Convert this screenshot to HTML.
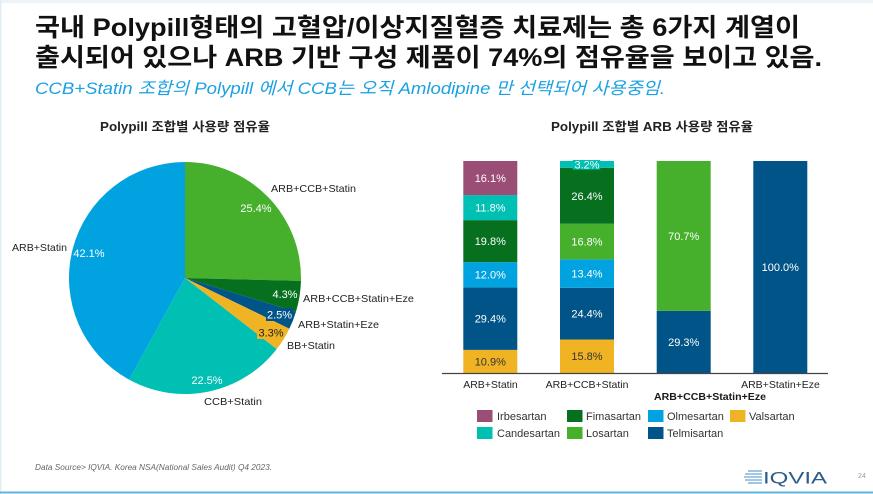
<!DOCTYPE html>
<html><head><meta charset="utf-8"><style>
html,body{margin:0;padding:0;background:#fff;}
svg{display:block;}
text{font-family:"Liberation Sans","Noto Sans CJK KR",sans-serif;}
</style></head><body>
<svg width="873" height="494" viewBox="0 0 873 494" xmlns="http://www.w3.org/2000/svg">
<rect x="0" y="0" width="873" height="494" fill="#fff"/>
<rect x="0" y="0" width="873" height="3" fill="#eef3f7"/>
<rect x="0" y="0" width="1.5" height="494" fill="#e3edf4"/>
<rect x="0" y="491.5" width="873" height="2" fill="#5ab6df"/>

<!-- Title -->
<text x="35" y="36" font-size="25" font-weight="bold" fill="#111" textLength="765" lengthAdjust="spacingAndGlyphs">국내 Polypill형태의 고혈압/이상지질혈증 치료제는 총 6가지 계열이</text>
<text x="35" y="66" font-size="25" font-weight="bold" fill="#111" textLength="787" lengthAdjust="spacingAndGlyphs">출시되어 있으나 ARB 기반 구성 제품이 74%의 점유율을 보이고 있음.</text>
<text x="35" y="94" font-size="17" font-style="italic" fill="#1ba1e2" textLength="630" lengthAdjust="spacingAndGlyphs">CCB+Statin 조합의 Polypill 에서 CCB는 오직 Amlodipine 만 선택되어 사용중임.</text>

<!-- Chart titles -->
<text x="100" y="131" font-size="12.5" font-weight="bold" fill="#222" textLength="170" lengthAdjust="spacingAndGlyphs">Polypill 조합별 사용량 점유율</text>
<text x="551" y="131" font-size="12.5" font-weight="bold" fill="#222" textLength="202" lengthAdjust="spacingAndGlyphs">Polypill 조합별 ARB 사용량 점유율</text>

<!-- Pie -->
<g stroke="none">
<path d="M185,278 L185,162 A116,116 0 0 1 300.96,280.92 Z" fill="#46af2c"/>
<path d="M185,278 L300.96,280.92 A116,116 0 0 1 295.98,311.76 Z" fill="#06701f"/>
<path d="M185,278 L295.98,311.76 A116,116 0 0 1 289.33,328.71 Z" fill="#005487"/>
<path d="M185,278 L289.33,328.71 A116,116 0 0 1 276.66,349.10 Z" fill="#f0b323"/>
<path d="M185,278 L276.66,349.10 A116,116 0 0 1 129.12,379.65 Z" fill="#00bfb3"/>
<path d="M185,278 L129.12,379.65 A116,116 0 0 1 185,162 Z" fill="#00a3df"/>
</g>
<g font-size="11" fill="#fff" text-anchor="middle">
<text x="256" y="212">25.4%</text>
<text x="89" y="257">42.1%</text>
<text x="285" y="298">4.3%</text>
<rect x="266" y="308" width="27" height="13" fill="#005487"/>
<text x="279.5" y="318.5">2.5%</text>
<rect x="257" y="326" width="27" height="13" fill="#f0b323"/>
<text x="271" y="336.5" fill="#222">3.3%</text>
<text x="207" y="384">22.5%</text>
</g>
<g font-size="10.5" fill="#222">
<text x="271" y="192" textLength="85" lengthAdjust="spacingAndGlyphs">ARB+CCB+Statin</text>
<text x="12" y="251" textLength="55" lengthAdjust="spacingAndGlyphs">ARB+Statin</text>
<text x="303" y="302" textLength="111" lengthAdjust="spacingAndGlyphs">ARB+CCB+Statin+Eze</text>
<text x="298" y="328" textLength="81" lengthAdjust="spacingAndGlyphs">ARB+Statin+Eze</text>
<text x="287" y="349" textLength="48" lengthAdjust="spacingAndGlyphs">BB+Statin</text>
<text x="204" y="405" textLength="58" lengthAdjust="spacingAndGlyphs">CCB+Statin</text>
</g>

<!-- Bars -->
<g>
<!-- Bar 1 -->
<rect x="463.3" y="349.89" width="54" height="23.11" fill="#f0b323"/>
<rect x="463.3" y="287.56" width="54" height="62.33" fill="#005487"/>
<rect x="463.3" y="262.12" width="54" height="25.44" fill="#00a3df"/>
<rect x="463.3" y="220.14" width="54" height="41.98" fill="#06701f"/>
<rect x="463.3" y="195.12" width="54" height="25.02" fill="#00bfb3"/>
<rect x="463.3" y="161" width="54" height="34.12" fill="#9a4e76"/>
<!-- Bar 2 -->
<rect x="560" y="339.5" width="54" height="33.5" fill="#f0b323"/>
<rect x="560" y="287.77" width="54" height="51.73" fill="#005487"/>
<rect x="560" y="259.36" width="54" height="28.41" fill="#00a3df"/>
<rect x="560" y="223.74" width="54" height="35.62" fill="#46af2c"/>
<rect x="560" y="167.77" width="54" height="55.97" fill="#06701f"/>
<rect x="560" y="161" width="54" height="6.77" fill="#00bfb3"/>
<!-- Bar 3 -->
<rect x="656.7" y="310.88" width="54" height="62.12" fill="#005487"/>
<rect x="656.7" y="161" width="54" height="149.88" fill="#46af2c"/>
<!-- Bar 4 -->
<rect x="753.3" y="161" width="54" height="212" fill="#005487"/>
</g>
<line x1="442" y1="373.5" x2="828" y2="373.5" stroke="#444" stroke-width="1.2"/>

<g font-size="11" fill="#fff" text-anchor="middle">
<text x="490.3" y="182">16.1%</text>
<text x="490.3" y="211.5">11.8%</text>
<text x="490.3" y="245">19.8%</text>
<text x="490.3" y="278.7">12.0%</text>
<text x="490.3" y="322.6">29.4%</text>
<text x="490.3" y="365.5" fill="#333">10.9%</text>

<rect x="572.7" y="160" width="27.5" height="9.5" fill="#00bfb3"/>
<text x="587" y="168.5">3.2%</text>
<text x="587" y="200">26.4%</text>
<text x="587" y="245.5">16.8%</text>
<text x="587" y="277.5">13.4%</text>
<text x="587" y="317.5">24.4%</text>
<text x="587" y="360.2" fill="#333">15.8%</text>

<text x="683.7" y="240">70.7%</text>
<text x="683.7" y="345.8">29.3%</text>

<text x="780.3" y="271">100.0%</text>
</g>

<g font-size="10.5" fill="#222" text-anchor="middle">
<text x="490.5" y="388">ARB+Statin</text>
<text x="587" y="388">ARB+CCB+Statin</text>
<text x="710" y="400" font-weight="bold" fill="#1a1a1a" textLength="112" lengthAdjust="spacingAndGlyphs">ARB+CCB+Statin+Eze</text>
<text x="780.5" y="388">ARB+Statin+Eze</text>
</g>

<!-- Legend -->
<g>
<rect x="477" y="410" width="15.5" height="12" fill="#9a4e76"/>
<rect x="567" y="410" width="15.5" height="12" fill="#06701f"/>
<rect x="648" y="410" width="15.5" height="12" fill="#00a3df"/>
<rect x="730" y="410" width="15.5" height="12" fill="#f0b323"/>
<rect x="477" y="427" width="15.5" height="12" fill="#00bfb3"/>
<rect x="567" y="427" width="15.5" height="12" fill="#46af2c"/>
<rect x="648" y="427" width="15.5" height="12" fill="#005487"/>
</g>
<g font-size="11" fill="#333">
<text x="497" y="420">Irbesartan</text>
<text x="586" y="420">Fimasartan</text>
<text x="667" y="420">Olmesartan</text>
<text x="749" y="420">Valsartan</text>
<text x="497" y="437">Candesartan</text>
<text x="586" y="437">Losartan</text>
<text x="667" y="437">Telmisartan</text>
</g>

<!-- Footer -->
<text x="35" y="470" font-size="8" font-style="italic" fill="#666" textLength="237" lengthAdjust="spacingAndGlyphs">Data Source&gt; IQVIA. Korea NSA(National Sales Audit) Q4 2023.</text>

<!-- IQVIA logo -->
<g stroke="#6aa7d8" stroke-width="1.3">
<line x1="748" y1="471" x2="762" y2="471"/>
<line x1="745" y1="474" x2="762" y2="474"/>
<line x1="744" y1="477" x2="762" y2="477"/>
<line x1="745" y1="480" x2="762" y2="480"/>
<line x1="748" y1="483" x2="762" y2="483"/>
</g>
<text x="763" y="483.5" font-size="17" fill="#2a5c8c" textLength="64" lengthAdjust="spacingAndGlyphs">IQVIA</text>
<text x="858" y="478" font-size="7" fill="#999">24</text>
</svg>
</body></html>
